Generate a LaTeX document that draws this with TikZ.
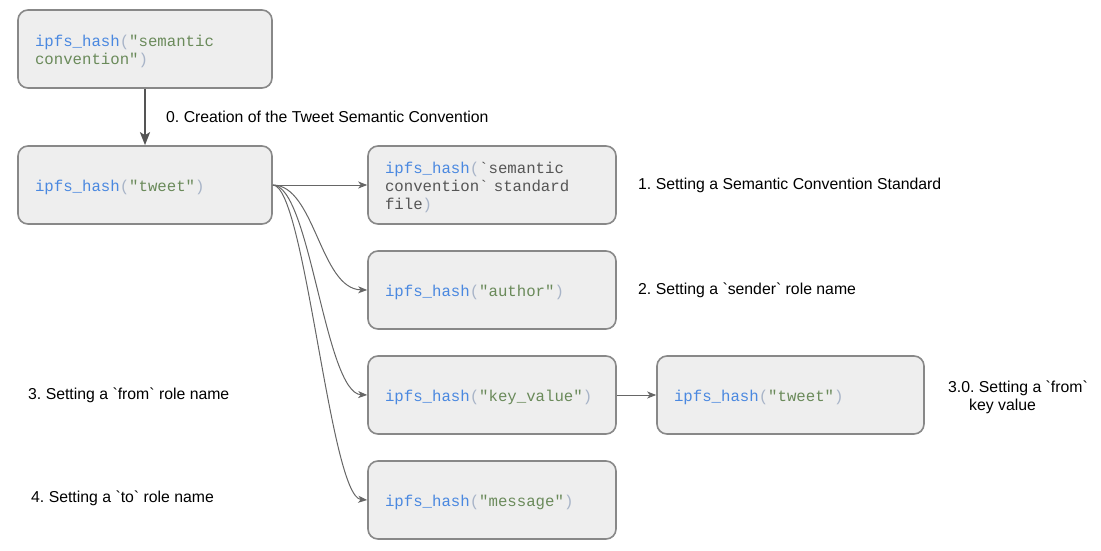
\documentclass[tikz,border=0pt]{standalone}
\usepackage{fontspec}
\setmainfont{Liberation Sans}[Ligatures=TeXOff]
\setmonofont{Liberation Mono}
\usetikzlibrary{arrows.meta}
\definecolor{cblue}{HTML}{4A88E0}
\definecolor{cgreen}{HTML}{6A8A5A}
\definecolor{cparen}{HTML}{A8B4C8}
\definecolor{cgrey}{HTML}{555555}
\definecolor{cfill}{HTML}{EEEEEE}
\definecolor{cborder}{HTML}{888888}
\definecolor{cline}{HTML}{666666}
\newcommand\ipfs{\rule{0pt}{17pt}\textcolor{cblue}{ipfs\_hash}\textcolor{cparen}{(}}
\newcommand\cpar{\textcolor{cparen}{)}}
\newcommand\strg[1]{\textcolor{cgreen}{\char34 #1\char34}}
\tikzset{
  hbox/.style={draw=cborder, line width=1.6pt, fill=cfill, rounded corners=10pt,
    minimum height=78pt, inner xsep=17pt, inner ysep=0pt, align=left,
    font=\ttfamily\fontsize{15.7}{18}\selectfont},
  lbl/.style={font=\fontsize{15.8}{18}\selectfont, inner sep=0pt, align=left},
  thin arrow/.style={draw=cline, line width=1pt, -{Stealth[length=9pt,width=7pt,inset=2.5pt]}},
}
\frenchspacing
\begin{document}
\begin{tikzpicture}[x=1pt,y=-1pt]
\useasboundingbox (0,0) rectangle (1101,550);
\node[hbox, text width=220pt] (b0) at (145,49) {\ipfs\textcolor{cgreen}{\char34semantic}\\\textcolor{cgreen}{convention\char34}\cpar};
\node[hbox, text width=220pt] (b1) at (145,185) {\ipfs\strg{tweet}\cpar};
\node[hbox, text width=214pt] (b2) at (492,185) {\ipfs\textcolor{cgrey}{\char96semantic}\\\textcolor{cgrey}{convention\char96{} standard}\\\textcolor{cgrey}{file}\cpar};
\node[hbox, text width=214pt] (b3) at (492,290) {\ipfs\strg{author}\cpar};
\node[hbox, text width=214pt] (b4) at (492,395) {\ipfs\strg{key\_value}\cpar};
\node[hbox, text width=214pt] (b5) at (492,500) {\ipfs\strg{message}\cpar};
\node[hbox, text width=233pt] (b6) at (790.5,395) {\ipfs\strg{tweet}\cpar};

\node[lbl, anchor=west] (l0) at (166,116.5) {0. Creation of the Tweet Semantic Convention};
\node[lbl, anchor=west] (l1) at (638,185) {1. Setting a Semantic Convention Standard};
\node[lbl, anchor=west] (l2) at (638,290) {2. Setting a \char96sender\char96{} role name};
\node[lbl, anchor=west] (l3) at (28,395) {3. Setting a \char96from\char96{} role name};
\node[lbl, anchor=west] (l4) at (31,498) {4. Setting a \char96to\char96{} role name};
\node[lbl, anchor=west] (l30) at (948,397) {3.0. Setting a \char96from\char96\\\hspace*{21pt}key value};

\draw[draw=cgrey, line width=2.4pt, -{Stealth[length=13pt,width=10pt,inset=3pt]}] (b0.south) -- (b1.north);
\draw[thin arrow] (b1.east) -- (b2.west);
\draw[thin arrow] (b1.east) .. controls (315,185) and (320,289) .. (b3.west);
\draw[thin arrow] (b1.east) .. controls (310,185) and (325,393) .. (b4.west);
\draw[thin arrow] (b1.east) .. controls (305,185) and (330,497) .. (b5.west);
\draw[thin arrow] (b4.east) -- (b6.west);
\end{tikzpicture}
\end{document}
